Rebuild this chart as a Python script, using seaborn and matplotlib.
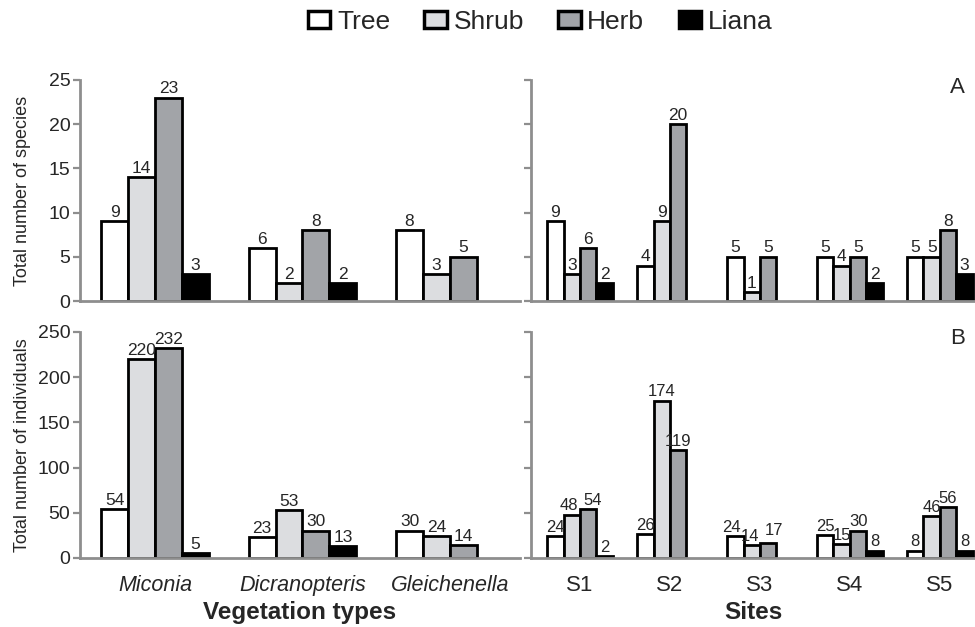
import numpy as np
import pandas as pd
import matplotlib
matplotlib.use("Agg")
import matplotlib.pyplot as plt
from matplotlib.patches import Patch
import seaborn as sns

# ---------------- data ----------------
life_forms = ["Tree", "Shrub", "Herb", "Liana"]
veg_types = ["Miconia", "Dicranopteris", "Gleichenella"]
sites = ["S1", "S2", "S3", "S4", "S5"]

# species richness by vegetation type
veg_sp_tree = [9, 6, 8]
veg_sp_shrub = [14, 2, 3]
veg_sp_herb = [23, 8, 5]
veg_sp_liana = [3, 2, np.nan]

# individuals by vegetation type
veg_ind_tree = [54, 23, 30]
veg_ind_shrub = [220, 53, 24]
veg_ind_herb = [232, 30, 14]
veg_ind_liana = [5, 13, np.nan]

# species richness by site
site_sp_tree = [9, 4, 5, 5, 5]
site_sp_shrub = [3, 9, 1, 4, 5]
site_sp_herb = [6, 20, 5, 5, 8]
site_sp_liana = [2, np.nan, np.nan, 2, 3]

# individuals by site
site_ind_tree = [24, 26, 24, 25, 8]
site_ind_shrub = [48, 174, 14, 15, 46]
site_ind_herb = [54, 119, 17, 30, 56]
site_ind_liana = [2, np.nan, np.nan, 8, 8]

species_ticks = [0, 5, 10, 15, 20, 25]
indiv_ticks = [0, 50, 100, 150, 200, 250]


def long_df(cats, tree, shrub, herb, liana):
    rows = []
    for form, vals in zip(life_forms, [tree, shrub, herb, liana]):
        for c, v in zip(cats, vals):
            if not (isinstance(v, float) and np.isnan(v)):
                rows.append({"cat": c, "form": form, "value": v})
    return pd.DataFrame(rows)


df_veg_sp = long_df(veg_types, veg_sp_tree, veg_sp_shrub, veg_sp_herb, veg_sp_liana)
df_veg_ind = long_df(veg_types, veg_ind_tree, veg_ind_shrub, veg_ind_herb, veg_ind_liana)
df_site_sp = long_df(sites, site_sp_tree, site_sp_shrub, site_sp_herb, site_sp_liana)
df_site_ind = long_df(sites, site_ind_tree, site_ind_shrub, site_ind_herb, site_ind_liana)

# ---------------- style ----------------
sns.set_style("white")
plt.rcParams["font.family"] = ["Liberation Sans", "DejaVu Sans"]

palette = {"Tree": "#ffffff", "Shrub": "#dcdde0", "Herb": "#a2a4a8", "Liana": "#000000"}
spine_grey = "#8e8e8e"

W, H = 975, 627
fig = plt.figure(figsize=(W / 100, H / 100), dpi=100)


def px_axes(x0, x1, ytop, ybot):
    return fig.add_axes([x0 / W, 1 - ybot / H, (x1 - x0) / W, (ybot - ytop) / H])


ax_tl = px_axes(80, 520, 80, 301)
ax_tr = px_axes(531, 975, 80, 301)
ax_bl = px_axes(80, 520, 332, 558)
ax_br = px_axes(531, 975, 332, 558)


def draw(ax, df, order, ticks, xlim, label_size):
    sns.barplot(data=df, x="cat", y="value", hue="form", order=order,
                hue_order=life_forms, palette=palette, saturation=1,
                edgecolor="black", linewidth=2, width=0.73, gap=0,
                errorbar=None, legend=False, ax=ax)
    labels = {}
    for form, c in zip(life_forms, ax.containers):
        labels[form] = ax.bar_label(c, fmt="%g", padding=1, fontsize=label_size)
    ax.set_ylim(ticks[0], ticks[-1])
    ax.set_yticks(ticks)
    ax.set_xlim(*xlim)
    for s in ["top", "right"]:
        ax.spines[s].set_visible(False)
    for s in ["left", "bottom"]:
        ax.spines[s].set_color(spine_grey)
        ax.spines[s].set_linewidth(2)
    ax.tick_params(axis="y", direction="out", length=5, width=1.6,
                   color=spine_grey, labelsize=14, pad=2, left=True)
    ax.tick_params(axis="x", length=0, pad=12)
    ax.set_xlabel("")
    ax.set_ylabel("")
    return labels


left_xlim = (-0.508, 2.475)
right_xlim = (-0.544, 4.39)

draw(ax_tl, df_veg_sp, veg_types, species_ticks, left_xlim, 12.5)
draw(ax_tr, df_site_sp, sites, species_ticks, right_xlim, 12.5)
draw(ax_bl, df_veg_ind, veg_types, indiv_ticks, left_xlim, 12.5)
lab_br = draw(ax_br, df_site_ind, sites, indiv_ticks, right_xlim, 12)

# nudge crowded labels apart (S1 and S3 in panel B)
lab_br["Shrub"][0].xyann = (-2, 1)
lab_br["Herb"][0].xyann = (3, 1)
lab_br["Tree"][2].xyann = (-3, 1)
lab_br["Shrub"][2].xyann = (-1, 1)
lab_br["Herb"][2].xyann = (4, 3)

for ax in (ax_tl, ax_tr):
    ax.tick_params(axis="x", labelbottom=False)
for ax in (ax_tr, ax_br):
    ax.tick_params(axis="y", labelleft=False)

for lab in ax_bl.get_xticklabels():
    lab.set_fontstyle("italic")
    lab.set_fontsize(15.5)
for lab in ax_br.get_xticklabels():
    lab.set_fontsize(16)

ax_tl.set_ylabel("Total number of species", fontsize=13)
ax_bl.set_ylabel("Total number of individuals", fontsize=13)
ax_tl.yaxis.set_label_coords(-0.112, 0.5)
ax_bl.yaxis.set_label_coords(-0.112, 0.5)

ax_bl.set_xlabel("Vegetation types", fontsize=17.5, fontweight="bold", labelpad=4)
ax_br.set_xlabel("Sites", fontsize=17.5, fontweight="bold", labelpad=4)

ax_tr.text(0.96, 0.968, "A", transform=ax_tr.transAxes, fontsize=16,
           ha="center", va="center")
ax_br.text(0.96, 0.973, "B", transform=ax_br.transAxes, fontsize=16,
           ha="center", va="center")

handles = [Patch(facecolor=palette[f], edgecolor="black", linewidth=2.5, label=f)
           for f in life_forms]
fig.legend(handles=handles, loc="center", bbox_to_anchor=(0.554, 0.965), ncol=4,
           frameon=False, fontsize=19, handlelength=0.85, handleheight=0.65,
           handletextpad=0.25, columnspacing=1.3, borderaxespad=0)

fig.savefig("out.png", dpi=100)
